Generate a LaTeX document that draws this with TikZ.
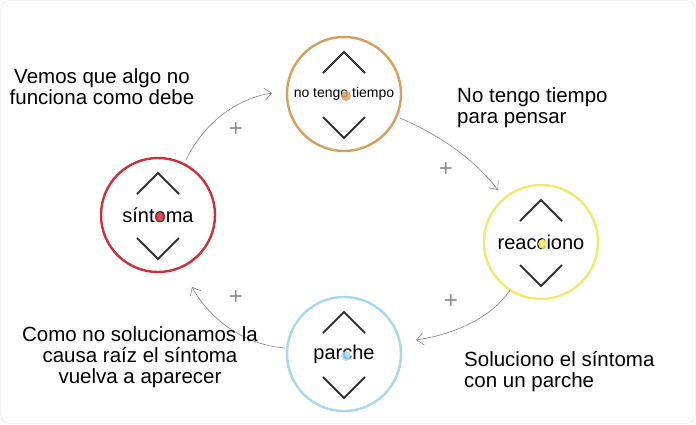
\documentclass[tikz,border=0pt]{standalone}
\usepackage{fontspec}
\setmainfont{Liberation Sans}
\usetikzlibrary{arrows.meta}
\definecolor{cred}{HTML}{C8323C}
\definecolor{ctan}{HTML}{D4A060}
\definecolor{cyel}{HTML}{F0E870}
\definecolor{cblue}{HTML}{A8D8EC}
\begin{document}
\begin{tikzpicture}[x=1pt,y=-1pt,
  state/.style={circle,draw=#1,line width=2.4pt,minimum size=114pt,inner sep=0pt,fill=white},
  chev/.style={draw=black!80,line width=1.8pt},
  flow/.style={draw=black!50,line width=0.6pt,-{Straight Barb[length=7pt,width=12pt]}},
  plus/.style={text=black!45,font=\fontsize{24}{24}\selectfont},
  lab/.style={font=\fontsize{20.5}{21}\selectfont,align=#1,inner sep=0pt}]
\useasboundingbox (0,0) rectangle (696,424);
\draw[black!12,rounded corners=10pt,fill=white] (0.5,0.5) rectangle (695.5,423.5);
\def\statenode#1#2#3#4#5#6{%
  \node[state=#4] (#1) at (#2,#3) {};
  \node[font=\fontsize{#6}{#6}\selectfont] (#1t) at (#2,#3) {#5};
  \fill[#4,opacity=0.85] (#2+2,#3+2) circle (5pt);
  \draw[chev] (#2-21,#3-21) -- (#2,#3-42) -- (#2+21,#3-21);
  \draw[chev] (#2-21,#3+23) -- (#2,#3+44) -- (#2+21,#3+23);}
\statenode{s}{158}{215}{cred}{síntoma}{20}
\statenode{n}{344}{94}{ctan}{no tengo tiempo}{14}
\statenode{r}{541}{242}{cyel}{reacciono}{20}
\statenode{p}{344}{354}{cblue}{parche}{20}
\coordinate (a1) at (186,160); \coordinate (b1) at (272,93);
\coordinate (a2) at (400,118); \coordinate (b2) at (498,190);
\coordinate (a3) at (510,290); \coordinate (b3) at (416,340);
\coordinate (a4) at (285,348); \coordinate (b4) at (192,287);
\draw[flow] (a1) .. controls (205,120) and (240,98) .. (b1);
\draw[flow] (a2) .. controls (440,135) and (475,160) .. (b2);
\draw[flow] (a3) .. controls (490,320) and (450,335) .. (b3);
\draw[flow] (a4) .. controls (245,345) and (210,320) .. (b4);
\node[plus] (p1) at (236,130) {+};
\node[plus] (p2) at (446,170) {+};
\node[plus] (p3) at (451,302) {+};
\node[plus] (p4) at (236,298) {+};
\node[lab=center] (t1) at (102,87) {Vemos que algo no\\funciona como debe};
\node[lab=left,anchor=west] (t2) at (457,108) {No tengo tiempo\\para pensar};
\node[lab=center] (t3) at (140,357) {Como no solucionamos la\\causa raíz el síntoma\\vuelva a aparecer};
\node[lab=left,anchor=west] (t4) at (464,372) {Soluciono el síntoma\\con un parche};
\end{tikzpicture}
\end{document}
